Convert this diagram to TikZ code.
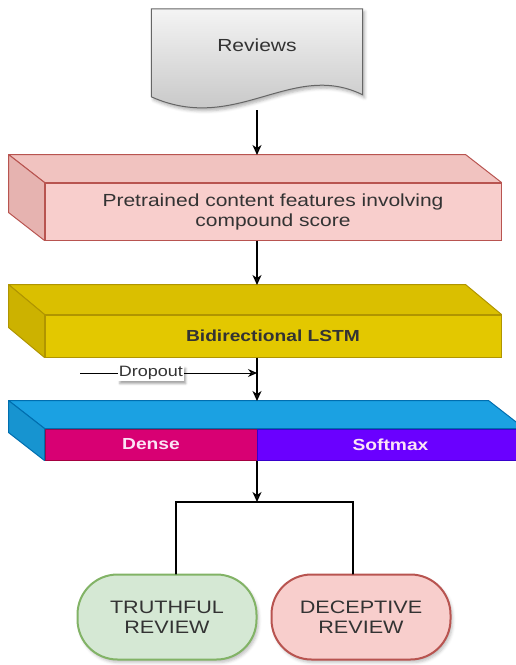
\documentclass[tikz,border=0pt]{standalone}
\usepackage{fontspec}
\setmainfont{Liberation Sans}[FakeStretch=1.2]
\usetikzlibrary{arrows.meta,shadows.blur,backgrounds,calc}

\definecolor{txtgray}{HTML}{333333}
\definecolor{pinkfront}{HTML}{F8CECC}
\definecolor{pinktop}{HTML}{F1C3C0}
\definecolor{pinkside}{HTML}{E6B3B0}
\definecolor{pinkline}{HTML}{B85450}
\definecolor{yelfront}{HTML}{E3C800}
\definecolor{yeltop}{HTML}{DABF00}
\definecolor{yelside}{HTML}{CCB200}
\definecolor{yelline}{HTML}{B09500}
\definecolor{bluetop}{HTML}{1BA1E2}
\definecolor{blueside}{HTML}{1794D0}
\definecolor{blueline}{HTML}{006EAF}
\definecolor{densefill}{HTML}{D80073}
\definecolor{denseline}{HTML}{A50040}
\definecolor{softfill}{HTML}{6A00FF}
\definecolor{softline}{HTML}{3700CC}
\definecolor{greenfill}{HTML}{D5E8D4}
\definecolor{greenline}{HTML}{82B366}
\definecolor{docline}{HTML}{666666}
\definecolor{doctop}{HTML}{F4F4F4}
\definecolor{docbottom}{HTML}{BDBDBD}
\definecolor{whitish}{HTML}{FBE4F6}

% faces of a slab: #1 left front node, #2 right front node,
% #3 top fill, #4 side fill, #5 line colour, #6 depth
\newcommand\slabfaces[6]{%
  \filldraw[fill=#3,draw=#5,line width=1pt,line join=round]
    (#1.north west) -- ++(-36,-#6) -- ($(#2.north east)+(-36,-#6)$)
    -- (#2.north east) -- cycle;
  \filldraw[fill=#4,draw=#5,line width=1pt,line join=round]
    (#1.north west) -- ++(-36,-#6) -- ($(#1.south west)+(-36,-#6)$)
    -- (#1.south west) -- cycle;
  \begin{scope}[on background layer]
    \path[blur shadow={shadow xshift=2pt,shadow yshift=-3pt,
          shadow opacity=30,shadow blur radius=3pt}]
      (#1.south west) -- ++(-36,-#6) -- ($(#1.north west)+(-36,-#6)$)
      -- ($(#2.north east)+(-36,-#6)$) -- (#2.north east)
      -- (#2.south east) -- cycle;
  \end{scope}}

\begin{document}
\begin{tikzpicture}[x=1pt,y=-1pt,
  txt/.style={text=txtgray,font=\fontsize{17.5}{20}\selectfont,align=center},
  front/.style={draw,line width=1pt,inner sep=0pt,align=center},
  arr/.style={line width=1.4pt,-{Stealth[length=10pt,width=9pt,inset=3pt]}},
  thinarr/.style={line width=1pt,-{Stealth[length=9pt,width=8pt,inset=3pt]}},
  bracket/.style={line width=2.6pt,line cap=round,line join=miter},
  outcome/.style={draw,line width=2pt,rounded corners=40pt,
    minimum width=179pt,minimum height=85pt,inner sep=0pt,align=center,
    text=txtgray,font=\fontsize{18}{20}\selectfont,
    blur shadow={shadow xshift=2pt,shadow yshift=-3pt,shadow opacity=25,shadow blur radius=3pt}},
  labelbox/.style={fill=white,inner sep=1pt,text=txtgray,
    font=\fontsize{15}{17}\selectfont,
    blur shadow={shadow xshift=2pt,shadow yshift=-3pt,shadow opacity=35,shadow blur radius=2pt}}
]
\useasboundingbox (0,0) rectangle (515,665);

% ---- input document
\node[minimum width=211pt,minimum height=89pt,inner sep=0pt] (rev) at (257,53.5) {};
\path[top color=doctop,bottom color=docbottom,draw=docline,line width=1pt,
      blur shadow={shadow xshift=2pt,shadow yshift=-3pt,shadow opacity=30,shadow blur radius=3pt}]
  (rev.north west) -- (rev.north east) -- ($(rev.north east)+(0,86)$)
  .. controls ($(rev.north east)+(-71,51)$) and ($(rev.north west)+(85,126)$)
  .. ($(rev.north west)+(0,88)$) -- cycle;
\node[txt] (revtxt) at (257,45) {Reviews};

% ---- pretrained features slab
\node[front,fill=pinkfront,draw=pinkline,minimum width=456pt,minimum height=57pt,
      txt] (pre) at (273,211.5) {Pretrained content features involving\\compound score};
\slabfaces{pre}{pre}{pinktop}{pinkside}{pinkline}{28}
\coordinate (pretop) at (257,155);

% ---- BiLSTM slab
\node[front,fill=yelfront,draw=yelline,minimum width=456pt,minimum height=42pt,
      txt,font=\bfseries\fontsize{16}{19}\selectfont] (lstm) at (273,336) {Bidirectional LSTM};
\slabfaces{lstm}{lstm}{yeltop}{yelside}{yelline}{30}
\coordinate (lstmtop) at (257,285);

% ---- dense / softmax slab
\node[front,fill=densefill,draw=denseline,minimum width=212pt,minimum height=31pt,
      text=whitish,font=\bfseries\fontsize{16}{19}\selectfont] (dense) at (151,444.5) {Dense};
\node[front,fill=softfill,draw=softline,minimum width=267pt,minimum height=31pt,
      text=whitish,font=\bfseries\fontsize{16}{19}\selectfont] (soft) at (390.5,444.5) {Softmax};
\slabfaces{dense}{soft}{bluetop}{blueside}{blueline}{28}
\coordinate (densetop) at (257,401);

% ---- outcomes
\node[outcome,fill=greenfill,draw=greenline] (tru) at (167,617) {TRUTHFUL\\REVIEW};
\node[outcome,fill=pinkfront,draw=pinkline] (dec) at (361,617) {DECEPTIVE\\REVIEW};

% ---- connectors
\draw[arr,shorten <=12pt] (rev.south) -- (pretop);
\draw[arr] (pre.south -| pretop) -- (lstmtop);
\draw[arr] (lstm.south -| lstmtop) -- (densetop);

\coordinate (dsrc) at (80,373);
\coordinate (djoin) at (257,373);
\draw[thinarr] (dsrc) -- node[labelbox,pos=0.4] (drop) {Dropout} (djoin);

\coordinate (jn) at (257,502);
\draw[arr] (dense.south -| jn) -- (jn);
\draw[bracket] ([xshift=9pt]tru.north) |- (jn) -| ([xshift=-8pt]dec.north);
\end{tikzpicture}
\end{document}
